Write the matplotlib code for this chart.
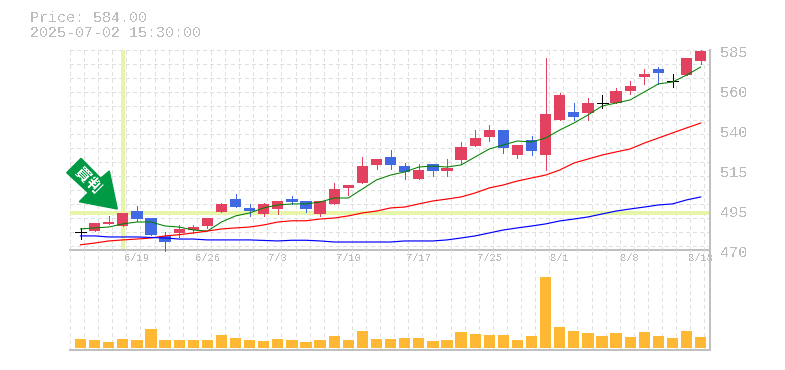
# -*- coding: utf-8 -*-
import numpy as np
import matplotlib
matplotlib.use("Agg")
import matplotlib.pyplot as plt
from matplotlib.patches import Polygon
from matplotlib.transforms import ScaledTranslation

plt.rcParams['font.family'] = ['Liberation Mono', 'DejaVu Sans']
plt.rcParams['text.antialiased'] = False

# Values
open_ = [480.4, 480.9, 485.0, 483.8, 492.4, 488.4, 478.1, 479.8, 481.5, 483.8, 491.9, 499.3, 494.2, 490.7, 493.6,
         499.3, 498.2, 490.7, 496.5, 505.7, 508.5, 518.9, 523.5, 518.3, 510.8, 519.5, 515.4, 521.8, 529.8, 535.0,
         539.0, 524.6, 533.3, 524.6, 544.8, 549.4, 548.8, 554.5, 554.5, 561.4, 569.5, 574.1, 567.2, 570.6, 578.7]
close = [480.4, 485.5, 486.1, 491.3, 487.8, 478.6, 474.6, 482.1, 483.2, 488.4, 496.5, 494.7, 492.4, 496.5, 498.2,
         497.6, 493.6, 498.2, 505.1, 507.4, 518.3, 522.3, 518.9, 514.9, 516.0, 515.4, 517.2, 529.2, 534.4, 539.0,
         528.7, 530.4, 526.9, 548.2, 559.1, 546.5, 554.5, 554.5, 561.4, 564.3, 571.2, 571.8, 567.2, 580.4, 584.4]
high = [482.7, 485.5, 489.6, 491.3, 495.3, 488.4, 480.4, 484.4, 484.4, 488.4, 497.0, 502.2, 496.5, 497.0, 498.2,
        501.1, 498.2, 498.2, 508.5, 507.4, 523.5, 522.3, 527.5, 520.0, 519.5, 519.5, 522.3, 532.1, 539.0, 541.9,
        539.0, 530.4, 535.6, 580.4, 560.3, 554.5, 557.4, 559.1, 563.2, 567.2, 574.1, 575.2, 571.2, 580.4, 585.0]
low = [476.3, 480.9, 485.0, 483.8, 486.7, 478.6, 469.6, 477.5, 479.8, 482.7, 491.9, 494.7, 489.6, 489.6, 490.7,
       496.5, 491.9, 489.6, 496.5, 501.6, 508.5, 516.6, 516.6, 510.8, 510.8, 512.6, 512.6, 519.5, 529.8, 532.7,
       525.8, 522.9, 524.6, 516.0, 544.8, 544.8, 544.8, 551.7, 554.5, 559.7, 565.5, 565.5, 563.7, 570.6, 577.0]
ma_short = [482.1, 482.7, 483.2, 485.0, 486.1, 486.1, 483.8, 483.2, 481.5, 480.9, 486.1, 489.6, 491.3, 494.2, 495.9,
            496.5, 496.5, 497.6, 499.9, 499.9, 505.1, 510.3, 513.1, 514.9, 517.7, 518.3, 517.7, 518.9, 523.5, 528.1,
            530.4, 532.7, 532.1, 534.4, 539.0, 543.0, 547.6, 552.8, 554.5, 556.3, 560.9, 565.5, 566.6, 570.6, 575.2]
ma_mid = [473.0, 474.0, 475.2, 475.8, 476.3, 476.9, 478.1, 478.8, 479.8, 480.9, 482.1, 482.7, 483.2, 484.4, 486.1,
          486.8, 486.8, 487.8, 488.4, 489.6, 491.3, 492.4, 494.2, 494.7, 496.5, 498.2, 499.3, 500.5, 502.8, 505.7,
          507.4, 509.7, 511.4, 513.1, 516.0, 520.0, 522.3, 524.6, 526.4, 528.1, 531.5, 534.4, 537.3, 540.2, 543.0]
ma_long = [478.1, 478.1, 477.5, 477.5, 477.5, 477.2, 476.9, 476.3, 476.3, 475.8, 475.8, 475.8, 475.8, 475.5, 475.2,
           475.6, 475.6, 475.2, 474.6, 474.6, 474.6, 474.6, 474.6, 475.2, 475.2, 475.2, 475.8, 476.9, 478.1, 479.8,
           481.5, 482.7, 483.8, 485.0, 486.7, 487.8, 489.0, 490.7, 492.4, 493.6, 494.7, 495.9, 496.5, 498.8, 500.5]
volume = [9, 8, 6, 9, 8, 19, 8, 8, 8, 8, 13, 10, 8, 7, 9,
          8, 6, 8, 12, 8, 17, 9, 9, 10, 10, 7, 8, 16, 14, 13,
          13, 8, 12, 71, 21, 17, 15, 12, 15, 11, 16, 12, 10, 17, 11]
price_ticks = [470, 493, 516, 539, 562, 585]
price_labels = ['470', '495', '515', '540', '560', '585']
date_ticks = [4, 9, 14, 19, 24, 29, 34, 39, 44]
date_labels = ['6/19', '6/26', '7/3', '7/10', '7/17', '7/25', '8/1', '8/8', '8/18']
cursor_index = 3
cursor_price = 491.3

UP = '#e2425f'
DOWN = '#4169e1'
GRID = '#e0e0e0'
FRAME = '#c0c0c0'
TEXT = '#bcbcbc'
CURSOR = '#e6f5a8'
VOL = '#ffb833'
PX = 0.72  # one pixel in points

W, H = 785, 370
fig = plt.figure(figsize=(W / 100, H / 100), dpi=100)
ax = fig.add_axes([70 / W, (H - 250) / H, 640 / W, 200 / H])
ax_vol = fig.add_axes([70 / W, (H - 350) / H, 640 / W, 100 / H])
ax_vol.patch.set_alpha(0)

xlim = (-0.745, 44.66)
for a in (ax, ax_vol):
    a.set_xlim(*xlim)
    a.set_xticks(xlim[0] + np.arange(0, 46), minor=True)
    a.grid(True, which='minor', axis='x', color=GRID, lw=PX, ls=(0, (3, 3)), antialiased=False)
    a.tick_params(which='both', length=0)
    a.set_axisbelow(True)
    for s in a.spines.values():
        s.set_color(FRAME)
        s.set_linewidth(2 * PX)
    a.spines['top'].set_visible(False)
    a.spines['left'].set_visible(False)

# price panel
ax.set_ylim(470, 585)
ax.set_yticks(585 - 8.05 * np.arange(0, 15), minor=True)
ax.grid(True, which='minor', axis='y', color=GRID, lw=PX, ls=(0, (3, 3)), antialiased=False)
ax.set_yticks([])
ax.set_xticks(date_ticks)
ax.set_xticklabels(date_labels, fontsize=7.6, color=TEXT)
ax.tick_params(axis='x', which='major', pad=2)
for val, lab in zip(price_ticks, price_labels):
    ax.annotate(lab, xy=(1, val), xycoords=ax.get_yaxis_transform(), xytext=(10, -3), textcoords='offset pixels',
                ha='left', va='center', fontsize=11, color=TEXT, annotation_clip=False)

ax.axhline(cursor_price, color=CURSOR, lw=4 * PX, zorder=1.5, antialiased=False)
ax.axvline(cursor_index, color=CURSOR, lw=4 * PX, zorder=1.5, antialiased=False)

for i in range(len(close)):
    if open_[i] == close[i]:
        c = 'black'
    elif close[i] > open_[i]:
        c = UP
    else:
        c = DOWN
    ax.vlines(i, low[i], high[i], color=c, lw=PX, zorder=3, antialiased=False, clip_on=False)
    if c == 'black':
        ax.hlines(close[i], i - 0.39, i + 0.39, color=c, lw=PX, zorder=3, antialiased=False)
    else:
        ax.bar(i, abs(close[i] - open_[i]), bottom=min(open_[i], close[i]), width=0.8, color=c, zorder=3,
               antialiased=False)

x = np.arange(len(close))
ax.plot(x, ma_short, color='#008000', lw=0.75, zorder=4)
ax.plot(x, ma_mid, color='#ff0000', lw=0.85, zorder=4)
ax.plot(x, ma_long, color='#0000ff', lw=0.85, zorder=4)

# arrow mark, offsets in pixels from its tip at the cursor
tip = np.array([117.3, 209.0])
shape = [(66.7, 172.7), (81.0, 158.3), (100.7, 178.3), (109.3, 171.0), (117.3, 209.0), (79.3, 201.7), (88.3, 192.7)]
off = [((px - tip[0]) / 100, (tip[1] - py) / 100) for px, py in shape]
tr = fig.dpi_scale_trans + ScaledTranslation(tip[0] / W, 1 - tip[1] / H, fig.transFigure)
ax.add_patch(Polygon(off, closed=True, color='#009944', transform=tr, zorder=5, clip_on=False))
fig.text(88.5 / W, 1 - 180.5 / H, '買判', color='white', fontsize=11, fontweight='bold', rotation=-45,
         ha='center', va='center', family=['Noto Sans CJK JP', 'DejaVu Sans'], zorder=6)

# volume panel
ax_vol.set_ylim(-2, 98)
ax_vol.set_yticks([])
ax_vol.set_xticks([])
ax_vol.bar(x, volume, width=0.8, color=VOL, zorder=3, antialiased=False)

# header
fig.text(30 / W, 1 - 18 / H, 'Price: 584.00', fontsize=10.8, color=TEXT, ha='left', va='center')
fig.text(30 / W, 1 - 33 / H, '2025-07-02 15:30:00', fontsize=10.8, color=TEXT, ha='left', va='center')

fig.savefig('out.png', dpi=100)
